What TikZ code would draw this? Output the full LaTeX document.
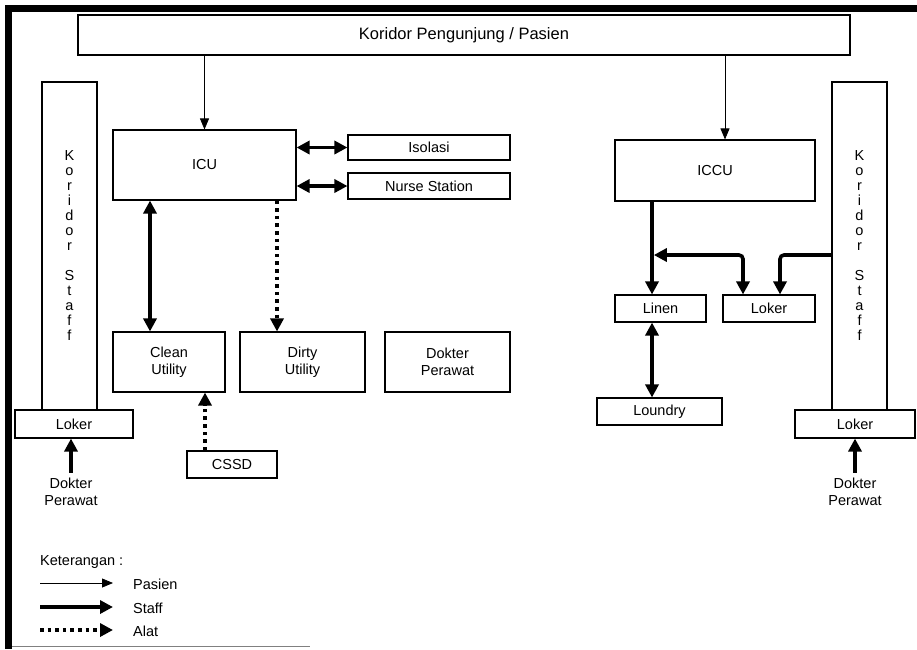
\documentclass[tikz,border=0pt]{standalone}
\usepackage{fontspec}
\setmainfont{Liberation Sans}
\usetikzlibrary{arrows.meta}
\begin{document}
\begin{tikzpicture}[x=1pt,y=-1pt,
  every node/.style={font=\fontsize{14.5}{17}\selectfont},
  box/.style={draw, line width=1.1pt, inner sep=0pt, align=center},
  letters/.style={align=center, font=\fontsize{14.5}{15}\selectfont},
  pasien/.style={line width=0.8pt, -{Triangle[length=11pt,width=9pt]}},
  staff/.style={line width=3.6pt, -{Triangle[length=13pt,width=13pt]}},
  staffboth/.style={line width=3.6pt, {Triangle[length=13pt,width=13pt]}-{Triangle[length=13pt,width=13pt]}},
  alat/.style={line width=3.6pt, dash pattern=on 3.6pt off 4pt, -{Triangle[length=13pt,width=13pt]}}]
\useasboundingbox (0,0) rectangle (917,649);

% outer frame
\fill (5,5) rectangle (917,12);
\fill (5,5) rectangle (12,649);
\draw[gray, line width=0.8pt] (12,646) -- (310,646);

% corridors
\node[box, minimum width=772, minimum height=40, font=\fontsize{16.5}{19}\selectfont] (kp) at (464,35) {Koridor Pengunjung / Pasien};
\node[box, minimum width=55, minimum height=328] (lks) at (69.5,246) {};
\node[letters] (lkst) at (69.5,246) {K\\o\\r\\i\\d\\o\\r\\[15pt]S\\t\\a\\f\\f};
\node[box, minimum width=55, minimum height=328] (rks) at (859.5,246) {};
\node[letters] (rkst) at (859.5,246) {K\\o\\r\\i\\d\\o\\r\\[15pt]S\\t\\a\\f\\f};
\node[box, minimum width=118, minimum height=28] (lloker) at (74,424) {Loker};
\node[box, minimum width=120, minimum height=28] (rloker) at (855,424) {Loker};

% ICU wing
\node[box, minimum width=183, minimum height=70] (icu) at (204.5,165) {ICU};
\node[box, minimum width=162, minimum height=25] (iso) at (429,147.5) {Isolasi};
\node[box, minimum width=162, minimum height=26] (ns) at (429,186) {Nurse Station};
\node[box, minimum width=112, minimum height=60] (clean) at (169,362) {Clean\\Utility};
\node[box, minimum width=125, minimum height=60] (dirty) at (302.5,362) {Dirty\\Utility};
\node[box, minimum width=125, minimum height=60] (dp) at (447.5,362) {Dokter\\Perawat};
\node[box, minimum width=90, minimum height=27] (cssd) at (232,464.5) {CSSD};

% ICCU wing
\node[box, minimum width=200, minimum height=61] (iccu) at (715,170.5) {ICCU};
\node[box, minimum width=91, minimum height=27] (linen) at (660.5,308.5) {Linen};
\node[box, minimum width=92, minimum height=27] (mloker) at (769,308.5) {Loker};
\node[box, minimum width=125, minimum height=27] (loundry) at (659.5,411.5) {Loundry};

% staff entrances
\node[align=center, inner sep=1pt] (dpl) at (71,492) {Dokter\\Perawat};
\node[align=center, inner sep=1pt] (dpr) at (855,492) {Dokter\\Perawat};

% helper coordinates
\coordinate (pa) at ([xshift=10]iccu.north);
\coordinate (lx) at ([xshift=-8.5]linen.north);
\coordinate (ml1) at ([xshift=-26]mloker.north);
\coordinate (ml2) at ([xshift=11]mloker.north);
\coordinate (jy) at (700,255);
\coordinate (ia) at ([xshift=-54.5]icu.south);
\coordinate (id) at ([xshift=72.5]icu.south);
\coordinate (cs) at ([xshift=-27]cssd.north);

% patient flow
\draw[pasien] (kp.south -| icu.north) -- (icu.north);
\draw[pasien] (pa |- kp.south) -- (pa);

% staff flow
\draw[staffboth] (icu.east |- iso.west) -- (iso.west);
\draw[staffboth] (icu.east |- ns.west) -- (ns.west);
\draw[staffboth] (ia) -- (ia |- clean.north);
\draw[staff] (lx |- iccu.south) -- (lx);
\draw[staffboth] (lx |- linen.south) -- (lx |- loundry.north);
\draw[staffboth, rounded corners=4pt] ([xshift=1.8]lx |- jy) -- (ml1 |- jy) -- (ml1);
\draw[staff, rounded corners=4pt] (rks.west |- jy) -- (ml2 |- jy) -- (ml2);
\draw[staff] ([yshift=4]dpl.north) -- (dpl.north |- lloker.south);
\draw[staff] ([yshift=4]dpr.north) -- (dpr.north |- rloker.south);

% equipment flow
\draw[alat] (id) -- (id |- dirty.north);
\draw[alat] (cs) -- (cs |- clean.south);

% legend
\node[anchor=west, inner sep=0pt] (ket) at (40,562) {Keterangan :};
\node[anchor=west, inner sep=0pt] (lp) at (133,584) {Pasien};
\node[anchor=west, inner sep=0pt] (ls) at (133,608) {Staff};
\node[anchor=west, inner sep=0pt] (la) at (133,631) {Alat};
\coordinate (lps) at (40,583);
\coordinate (lss) at (40,607);
\coordinate (las) at (40,630);
\draw[pasien] (lps) -- ([xshift=-20]lps -| lp.west);
\draw[staff] (lss) -- ([xshift=-20]lss -| ls.west);
\draw[alat] (las) -- ([xshift=-20]las -| la.west);
\end{tikzpicture}
\end{document}
